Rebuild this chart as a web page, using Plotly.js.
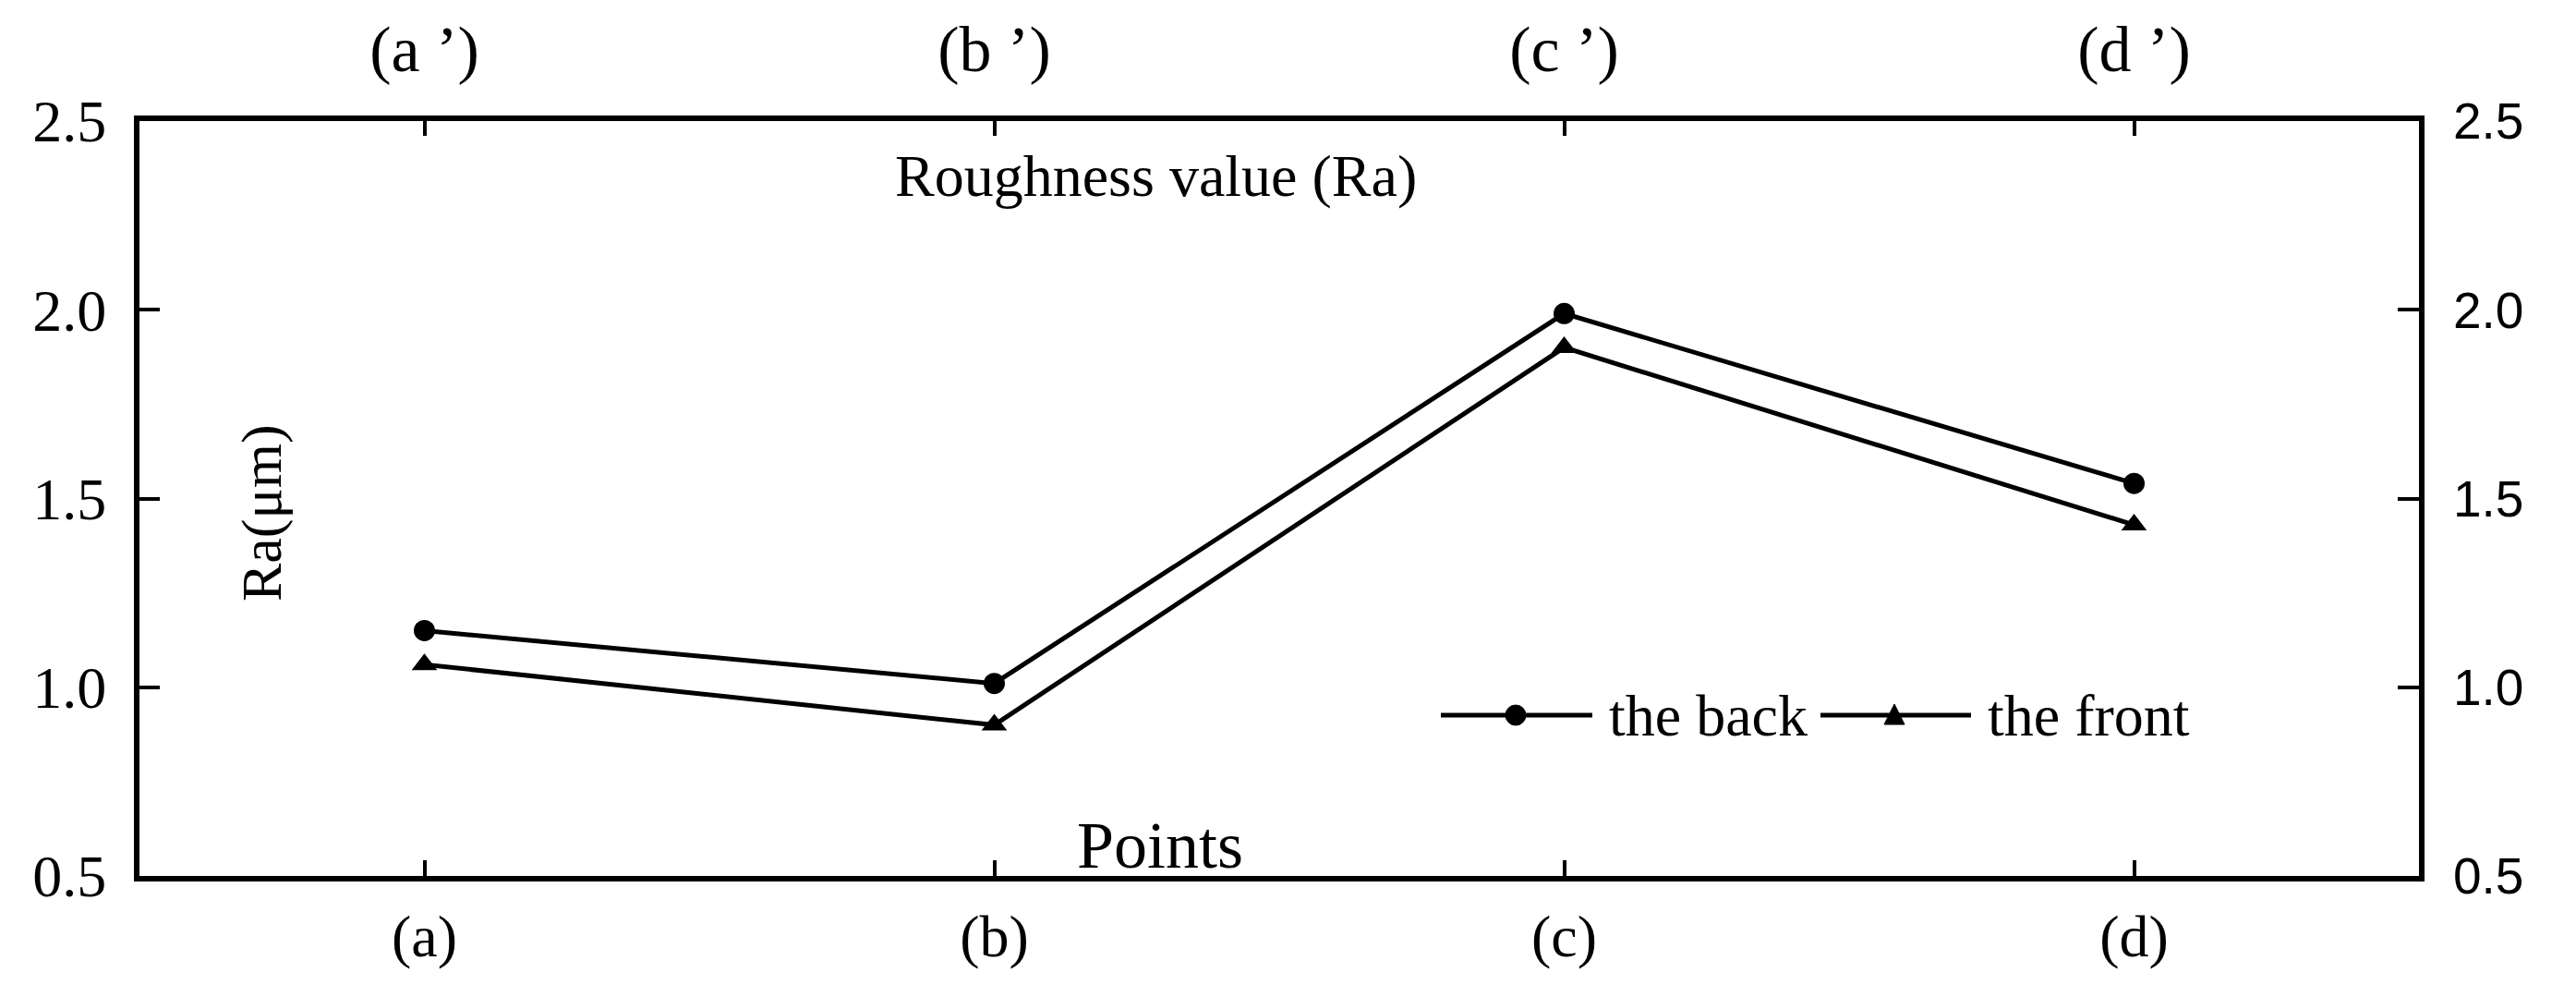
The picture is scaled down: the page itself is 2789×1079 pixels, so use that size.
<!DOCTYPE html>
<html>
<head>
<meta charset="utf-8">
<script src="https://cdn.plot.ly/plotly-3.0.1.min.js"></script>
<style>
  html, body { margin: 0; padding: 0; background: #fff; }
  #chart { width: 2789px; height: 1079px; }
</style>
</head>
<body>
<div id="chart"></div>
<script>
"use strict";

// sampling points on the part
var points = ["(a)", "(b)", "(c)", "(d)"];
var pointsPrime = ["(a \u2019)", "(b \u2019)", "(c \u2019)", "(d \u2019)"];
var pointIndex = [0, 1, 2, 3];

// Ra values in micrometres
var raBack = [1.15, 1.01, 1.99, 1.54];
var raFront = [1.06, 0.90, 1.90, 1.43];

var yTicks = [0.5, 1.0, 1.5, 2.0, 2.5];
var seriesNames = ["the back", "the front"];

var serif = "Liberation Serif, Times New Roman, serif";
var sans = "Liberation Sans, Arial, sans-serif";

// plot box in pixels, used to turn legend positions into paper coords
var plotL = 151, plotR = 2619, plotT = 131, plotB = 948;
function px(x){ return (x - plotL) / (plotR - plotL); }
function py(y){ return (plotB - y) / (plotB - plotT); }

var traceBack = {
    x: points,
    y: raBack,
    type: "scatter",
    mode: "lines+markers",
    name: seriesNames[0],
    line: {color: "#000", width: 5},
    marker: {symbol: "circle", size: 23, color: "#000"}
};

var traceFront = {
    x: points,
    y: raFront,
    type: "scatter",
    mode: "lines+markers",
    name: seriesNames[1],
    line: {color: "#000", width: 5},
    marker: {symbol: "triangle-up", size: 24, color: "#000"}
};

// invisible copy so the top and right axes get drawn
var traceMirror = {
    x: pointIndex,
    y: raBack,
    xaxis: "x2",
    yaxis: "y2",
    type: "scatter",
    mode: "markers",
    marker: {opacity: 0},
    showlegend: false,
    hoverinfo: "skip"
};

function axisBase(){
    return {
        showgrid: false,
        zeroline: false,
        showline: true,
        linecolor: "#000",
        linewidth: 6,
        ticks: "inside",
        tickwidth: 4,
        tickcolor: "#000"
    };
}

var xaxis = Object.assign(axisBase(), {
    type: "category",
    range: [-0.5, 3.5],
    ticklen: 17,
    ticklabelstandoff: 4,
    tickfont: {family: serif, size: 64, color: "#000"}
});

var xaxis2 = Object.assign(axisBase(), {
    overlaying: "x",
    side: "top",
    anchor: "y",
    range: [-0.5, 3.5],
    tickvals: pointIndex,
    ticktext: pointsPrime,
    ticklen: 16,
    ticklabelstandoff: 20,
    tickfont: {family: serif, size: 70, color: "#000"}
});

var yaxis = Object.assign(axisBase(), {
    range: [0.5, 2.5],
    tickvals: yTicks,
    tickformat: ".1f",
    ticklen: 22,
    ticklabelstandoff: 17,
    tickfont: {family: serif, size: 64, color: "#000"}
});

var yaxis2 = Object.assign(axisBase(), {
    overlaying: "y",
    side: "right",
    anchor: "x",
    range: [0.5, 2.5],
    tickvals: yTicks,
    tickformat: ".1f",
    ticklen: 23,
    ticklabelstandoff: 20,
    tickfont: {family: sans, size: 55, color: "#000"}
});

// hand-drawn legend: long line, centred marker, text
var legY = py(774);
var shapes = [
    {type: "line", xref: "paper", yref: "paper", x0: px(1560), x1: px(1724), y0: legY, y1: legY,
     line: {color: "#000", width: 5}},
    {type: "line", xref: "paper", yref: "paper", x0: px(1971), x1: px(2134), y0: legY, y1: legY,
     line: {color: "#000", width: 5}},
    {type: "circle", xref: "paper", yref: "paper", xsizemode: "pixel", ysizemode: "pixel",
     xanchor: px(1641), yanchor: legY, x0: -11, x1: 11, y0: -11, y1: 11,
     fillcolor: "#000", line: {color: "#000", width: 1}},
    {type: "path", xref: "paper", yref: "paper", xsizemode: "pixel", ysizemode: "pixel",
     xanchor: px(2051), yanchor: legY, path: "M-11,-10 L11,-10 L0,12 Z",
     fillcolor: "#000", line: {color: "#000", width: 1}}
];

var annotations = [
    {
        text: "Roughness value (Ra)",
        xref: "paper", yref: "paper",
        x: 0.446, y: 0.9266,
        xanchor: "center", yanchor: "middle",
        showarrow: false,
        font: {family: serif, size: 64, color: "#000"}
    },
    {
        text: "Points",
        xref: "paper", yref: "paper",
        x: 0.4477, y: 0.040,
        xanchor: "center", yanchor: "middle",
        showarrow: false,
        font: {family: serif, size: 72, color: "#000"}
    },
    {
        text: "Ra(\u03bcm)",
        xref: "paper", yref: "paper",
        x: 0.0535, y: 0.481,
        xanchor: "center", yanchor: "middle",
        textangle: -90,
        showarrow: false,
        font: {family: serif, size: 62, color: "#000"}
    },
    {
        text: seriesNames[0],
        xref: "paper", yref: "paper",
        x: px(1740), y: legY,
        xanchor: "left", yanchor: "middle",
        showarrow: false,
        font: {family: serif, size: 64, color: "#000"}
    },
    {
        text: seriesNames[1],
        xref: "paper", yref: "paper",
        x: px(2150), y: legY,
        xanchor: "left", yanchor: "middle",
        showarrow: false,
        font: {family: serif, size: 64, color: "#000"}
    }
];

var layout = {
    width: 2789,
    height: 1079,
    margin: {l: plotL, r: 2789 - plotR, t: plotT, b: 1079 - plotB},
    paper_bgcolor: "#fff",
    plot_bgcolor: "#fff",
    font: {family: serif, color: "#000"},
    showlegend: false,
    xaxis: xaxis,
    xaxis2: xaxis2,
    yaxis: yaxis,
    yaxis2: yaxis2,
    shapes: shapes,
    annotations: annotations
};

Plotly.newPlot("chart", [traceBack, traceFront, traceMirror], layout, {staticPlot: true});
</script>
</body>
</html>
